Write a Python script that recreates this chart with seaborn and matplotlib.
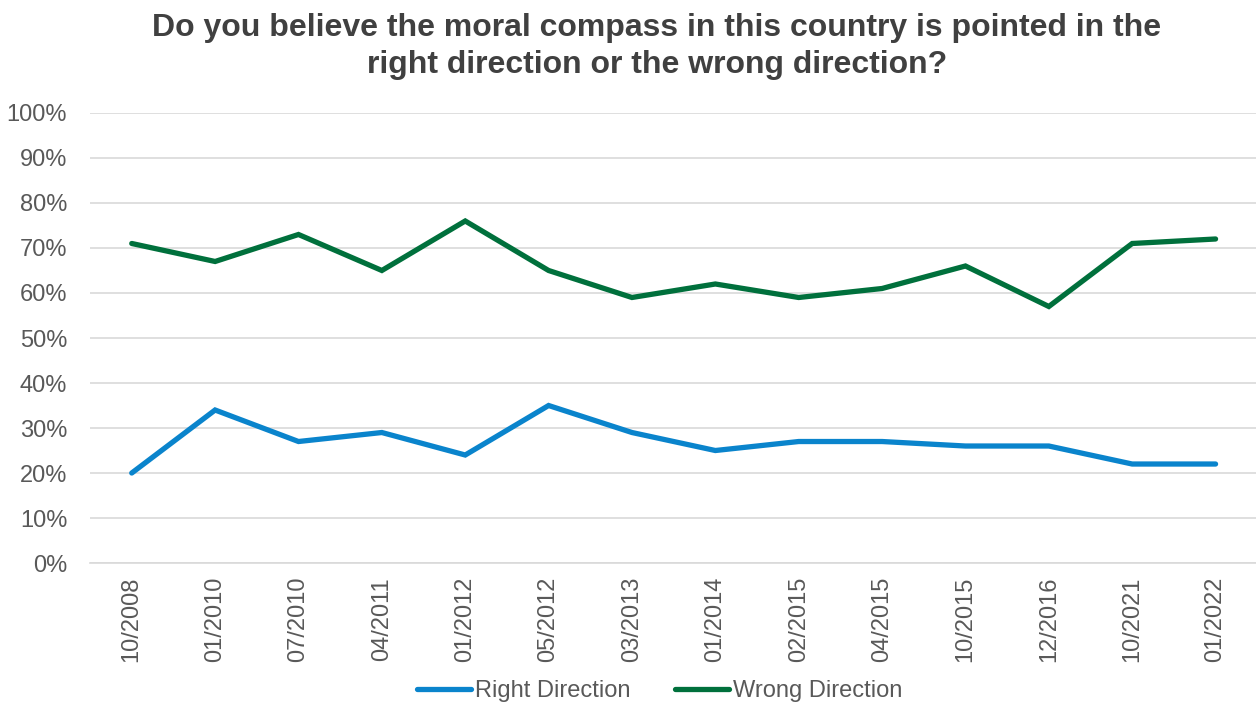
import matplotlib
matplotlib.use("Agg")
import matplotlib.pyplot as plt
import seaborn as sns
import pandas as pd
from matplotlib.ticker import PercentFormatter, FixedLocator

# Survey waves and shares of respondents (%)
waves = ["10/2008", "01/2010", "07/2010", "04/2011", "01/2012", "05/2012", "03/2013",
         "01/2014", "02/2015", "04/2015", "10/2015", "12/2016", "10/2021", "01/2022"]
right_direction = [20, 34, 27, 29, 24, 35, 29, 25, 27, 27, 26, 26, 22, 22]
wrong_direction = [71, 67, 73, 65, 76, 65, 59, 62, 59, 61, 66, 57, 71, 72]
series_names = ["Right Direction", "Wrong Direction"]
series_colors = ["#0A84CC", "#00703C"]

df = pd.DataFrame({
    "pos": list(range(len(waves))) * 2,
    "value": right_direction + wrong_direction,
    "series": [series_names[0]] * len(waves) + [series_names[1]] * len(waves),
})

sns.set_theme(style="white")
plt.rcParams["font.family"] = ["Liberation Sans", "DejaVu Sans"]

fig = plt.figure(figsize=(12.56, 7.03), dpi=100)
ax = fig.add_axes([0.0717, 0.1991, 0.9293, 0.6402])

sns.lineplot(data=df, x="pos", y="value", hue="series", hue_order=series_names,
             palette=series_colors, linewidth=3.8, ax=ax, legend=False,
             solid_capstyle="round", solid_joinstyle="miter")

ax.set_xlim(-0.5, len(waves) - 0.5)
ax.set_ylim(0, 100)
ax.set_yticks(range(0, 101, 10))
ax.yaxis.set_major_formatter(PercentFormatter(decimals=0))
ax.set_xticks(range(len(waves)))
ax.set_xticklabels(waves, rotation=90)
ax.xaxis.set_minor_locator(FixedLocator([i - 0.5 for i in range(len(waves) + 1)]))
ax.tick_params(axis="x", which="major", length=0, pad=10, labelsize=17, labelcolor="#595959")
ax.tick_params(axis="x", which="minor", length=6, width=1, color="#D9D9D9", direction="out")
ax.tick_params(axis="y", length=0, pad=16.5, labelsize=17, labelcolor="#595959")
ax.set_xlabel("")
ax.set_ylabel("")

ax.grid(axis="y", color="#D9D9D9", linewidth=1.2)
ax.set_axisbelow(True)
for side in ["top", "right", "left"]:
    ax.spines[side].set_visible(False)
ax.spines["bottom"].set_color("#D9D9D9")
ax.spines["bottom"].set_linewidth(1.2)

fig.suptitle("Do you believe the moral compass in this country is pointed in the\nright direction or the wrong direction?",
             x=0.523, y=0.982, fontsize=23, fontweight="bold", color="#404040", linespacing=1.3)

handles = [plt.Line2D([0], [0], color=c, linewidth=3.8, solid_capstyle="round") for c in series_colors]
fig.legend(handles, series_names, loc="center", bbox_to_anchor=(0.525, 0.017), ncol=2,
           frameon=False, fontsize=17, labelcolor="#595959", handlelength=2.3,
           handletextpad=0.15, columnspacing=1.9)

fig.savefig("out.png", dpi=100)
